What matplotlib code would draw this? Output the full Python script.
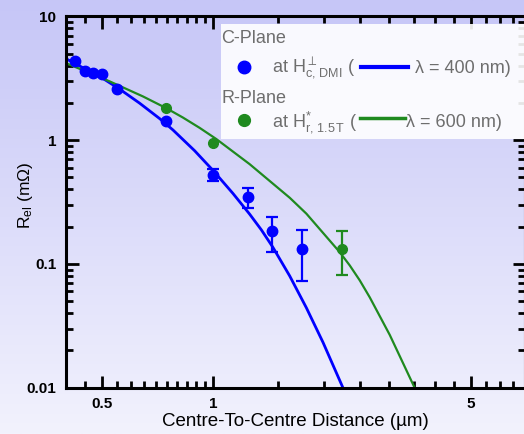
import matplotlib
matplotlib.use('Agg')
import matplotlib.pyplot as plt
import numpy as np
from matplotlib.colors import LinearSegmentedColormap
from matplotlib.patches import Rectangle

# C-plane measurements (blue)
c_dist = [0.424, 0.449, 0.473, 0.501, 0.55, 0.748, 1.0, 1.247, 1.445, 1.746]
c_res = [4.36, 3.64, 3.51, 3.40, 2.58, 1.42, 0.528, 0.345, 0.183, 0.131]
c_err = [0, 0, 0, 0, 0, 0, 0.058, 0.064, 0.058, 0.058]

# R-plane measurements (green)
r_dist = [0.748, 1.0, 2.243]
r_res = [1.82, 0.953, 0.133]
r_err = [0, 0, 0.051]

# fit curves
c_fit_x = [0.399, 0.503, 0.559, 0.633, 0.717, 0.779, 0.892, 1.0, 1.133, 1.257,
           1.353, 1.454, 1.614, 1.791, 1.987, 2.251, 2.29]
c_fit_y = [4.58, 3.162, 2.588, 1.993, 1.497, 1.212, 0.823, 0.571, 0.3713, 0.2529,
           0.1883, 0.1361, 0.080, 0.0442, 0.0232, 0.00994, 0.0088]
r_fit_x = [0.399, 0.525, 0.646, 0.748, 0.829, 0.920, 1.021, 1.257, 1.615, 1.791,
           2.204, 2.347, 2.498, 2.66, 3.012, 3.521, 3.6]
r_fit_y = [4.215, 2.991, 2.261, 1.814, 1.526, 1.26, 1.023, 0.641, 0.3424, 0.2549,
           0.1247, 0.0973, 0.0737, 0.0536, 0.0267, 0.00992, 0.0086]

x_ticks = [0.5, 1, 5]
x_tick_labels = ['0.5', '1', '5']
x_minor = [0.45, 0.55, 0.6, 0.65, 0.7, 0.75, 0.8, 0.85, 0.9, 0.95,
           1.5, 2, 2.5, 3, 3.5, 4, 4.5, 5.5, 6, 6.5]
y_ticks = [0.01, 0.1, 1, 10]
y_tick_labels = ['0.01', '0.1', '1', '10']

BLUE = '#0000ff'
GREEN = '#1f8a1f'
GREY = '#6e6e6e'

plt.rcParams['font.family'] = ['Liberation Sans', 'DejaVu Sans']
plt.rcParams['mathtext.fontset'] = 'custom'
plt.rcParams['mathtext.rm'] = 'Liberation Sans'
plt.rcParams['mathtext.it'] = 'Liberation Sans:italic'
plt.rcParams['mathtext.bf'] = 'Liberation Sans:bold'

W, H = 524, 434
fig = plt.figure(figsize=(W / 100, H / 100), dpi=100)


def px(x, y):
    # pixel position -> figure fraction
    return x / W, 1 - y / H


# lavender gradient behind everything
bg = fig.add_axes([0, 0, 1, 1], zorder=-1)
grad = np.linspace(0, 1, 256).reshape(-1, 1)
cmap = LinearSegmentedColormap.from_list('bg', ['#c6c6f7', '#f2f2fd'])
bg.imshow(grad, aspect='auto', cmap=cmap, extent=[0, 1, 0, 1], origin='upper')
bg.axis('off')

ax = fig.add_axes([66 / W, (H - 387.7) / H, (525 - 66) / W, (387.7 - 16.5) / H])
ax.patch.set_alpha(0)
ax.set_xscale('log')
ax.set_yscale('log')
ax.set_xlim(0.4, 7)
ax.set_ylim(0.01, 10)

ax.set_xticks(x_ticks, labels=x_tick_labels, fontweight='bold', fontsize=11)
ax.set_xticks(x_minor, minor=True)
ax.xaxis.set_minor_formatter(matplotlib.ticker.NullFormatter())
ax.set_yticks(y_ticks, labels=y_tick_labels, fontweight='bold', fontsize=11)
ax.yaxis.set_minor_locator(matplotlib.ticker.LogLocator(subs=range(2, 10)))
ax.yaxis.set_minor_formatter(matplotlib.ticker.NullFormatter())
ax.tick_params(which='both', direction='in', top=True, right=True, width=2, pad=7)
ax.tick_params(which='major', length=9)
ax.tick_params(which='minor', length=5)
for s in ax.spines.values():
    s.set_linewidth(2.2)

ax.set_xlabel('Centre-To-Centre Distance (µm)', fontsize=13.5, labelpad=1)
ax.set_ylabel('R$_{\\mathrm{el}}$ (mΩ)', fontsize=12.5)
ax.yaxis.set_label_coords(-0.068, 0.519)

# fits
ax.plot(c_fit_x, c_fit_y, color=BLUE, lw=2.0, zorder=2)
ax.plot(r_fit_x, r_fit_y, color=GREEN, lw=1.6, zorder=2)

# data with error bars
c_mask = np.array(c_err) > 0
r_mask = np.array(r_err) > 0
ax.errorbar(np.array(c_dist)[c_mask], np.array(c_res)[c_mask], yerr=np.array(c_err)[c_mask],
            fmt='none', ecolor=BLUE, elinewidth=1.6, capsize=4, capthick=1.6, zorder=3)
ax.errorbar(np.array(r_dist)[r_mask], np.array(r_res)[r_mask], yerr=np.array(r_err)[r_mask],
            fmt='none', ecolor=GREEN, elinewidth=1.6, capsize=4, capthick=1.6, zorder=3)
ax.plot(c_dist, c_res, 'o', color=BLUE, ms=7.5, zorder=4)
ax.plot(r_dist, r_res, 'o', color=GREEN, ms=7, zorder=4)

# hand-made legend box
x0, y0 = px(221, 138.5)
x1, y1 = px(525, 24)
fig.add_artist(Rectangle((x0, y0), x1 - x0, y1 - y0, transform=fig.transFigure,
                         facecolor='white', alpha=0.9, edgecolor='none', zorder=5))

fig.text(*px(221.5, 42.7), 'C-Plane', fontsize=13, color=GREY, va='baseline', zorder=6)
fig.text(*px(221.5, 103.3), 'R-Plane', fontsize=13, color=GREY, va='baseline', zorder=6)
fig.text(*px(272, 72.7), 'at H$^{\\perp}_{\\mathrm{c,\\,DMI}}$ (', fontsize=13, color=GREY,
         va='baseline', zorder=6)
fig.text(*px(272, 126.7), 'at H$^{*}_{\\mathrm{r,\\,1.5\\,T}}$ (', fontsize=13, color=GREY,
         va='baseline', zorder=6)
fig.text(*px(415, 72.7), 'λ = 400 nm)', fontsize=13, color=GREY, va='baseline', zorder=6)
fig.text(*px(405.5, 126.7), 'λ = 600 nm)', fontsize=13, color=GREY, va='baseline', zorder=6)

fig.add_artist(plt.Line2D(*zip(px(244.3, 66.7)), marker='o', ms=9, color=BLUE,
                          transform=fig.transFigure, zorder=6))
fig.add_artist(plt.Line2D(*zip(px(244.3, 120)), marker='o', ms=8.5, color=GREEN,
                          transform=fig.transFigure, zorder=6))
fig.add_artist(plt.Line2D(*zip(px(361, 66.7), px(408, 66.7)), lw=3, color=BLUE,
                          transform=fig.transFigure, zorder=6))
fig.add_artist(plt.Line2D(*zip(px(360, 118.3), px(405, 118.3)), lw=2.5, color=GREEN,
                          transform=fig.transFigure, zorder=6))

fig.savefig('out.png', dpi=100)
